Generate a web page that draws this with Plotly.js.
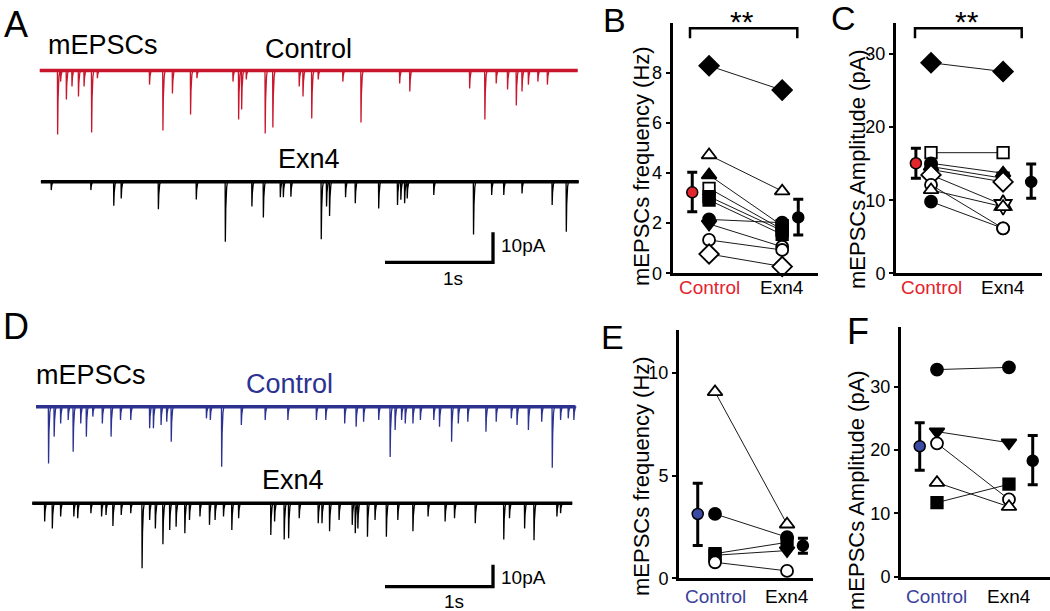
<!DOCTYPE html>
<html>
<head>
<meta charset="utf-8">
<script src="https://cdn.plot.ly/plotly-3.0.1.min.js"></script>
<style>html,body{margin:0;padding:0;background:#fff;}#chart{width:1050px;height:611px;}</style>
</head>
<body>
<div id="chart"></div>
<script>
// ---------------- DATA ----------------
// Panel A: mEPSC events (time s, amplitude pA)
const aCtrlTimes = [0.165,0.193,0.246,0.298,0.358,0.410,0.480,0.533,1.016,1.140,1.228,1.396,1.455,1.789,1.841,1.869,1.912,2.087,2.158,2.402,2.437,2.518,2.578,2.806,2.974,3.332,3.426,3.980,4.121,4.226,4.331,4.412,4.465,4.524,4.612,4.700];
const aCtrlAmps  = [21.3,3.7,9.7,5.3,8.7,5.3,20.7,2.6,4.7,20,7.7,14.7,2.6,3.7,16.3,13,3,21,19,5.3,8.7,16,3,3.7,17.3,4.3,7,6,16.3,4.3,6.3,11.7,7,4.7,3.7,4.7];
const aCtrlSpan  = [0, 4.98];
const aExnTimes  = [0.106,0.473,0.685,0.754,1.098,1.449,1.718,1.964,2.070,2.227,2.255,2.325,2.606,2.655,2.683,2.831,2.921,3.138,3.312,3.343,3.378,3.402,3.648,4.016,4.184,4.296,4.465,4.744,4.875];
const aExnAmps   = [2.8,2.8,8,5.6,9.2,5.9,20,8.3,11.9,5.2,5.2,5,19.2,8.3,11.4,5.2,7.2,8.9,7.8,6,7.2,5.6,4.4,17.6,4.4,4.4,3.9,7.8,16.7];
const aExnSpan   = [0.01, 4.99];
// Panel D
const dCtrlTimes = [0.081,0.133,0.193,0.263,0.309,0.379,0.431,0.491,0.579,0.660,0.747,0.842,1.017,1.052,1.123,1.175,1.217,1.543,1.579,1.684,1.866,2.087,2.297,2.561,2.648,2.823,2.929,2.998,3.138,3.244,3.290,3.350,3.384,3.455,3.524,3.648,3.701,3.813,3.875,3.963,4.131,4.226,4.366,4.419,4.524,4.647,4.745,4.822,4.893,4.945];
const dCtrlAmps  = [25.8,13.6,7.6,6,20.5,7.6,13.6,4.5,7.6,13.6,6,6,9.8,9.8,8.3,6.8,15.9,5.3,6,27.3,8.3,6,6,6,6,7.6,9.1,6.8,6,22.9,10.6,6,7.6,7.6,6,6,9.1,15.9,7.6,6.8,11.4,6.8,5.3,8.3,10.6,6.8,27.8,6,5.3,6];
const dCtrlSpan  = [-0.035, 4.96];
const dExnTimes  = [0.045,0.116,0.193,0.315,0.351,0.473,0.572,0.613,0.677,0.754,0.842,0.947,1.017,1.070,1.140,1.203,1.262,1.343,1.386,1.483,1.571,1.623,1.701,1.778,1.841,2.139,2.174,2.263,2.304,2.402,2.578,2.613,2.683,2.771,2.893,2.921,2.945,3.034,3.104,3.209,3.315,3.455,3.595,3.753,3.840,4.032,4.296,4.349,4.489,4.576,4.788,4.822];
const dExnAmps   = [8.3,11.4,6,6,6.8,4.5,6,5.3,10.3,5.3,4.5,29.5,7.6,11.4,18.6,12.1,10.6,13.6,7.6,6,9.8,7.6,6,12.1,6.8,14.4,8.3,16.4,15.9,6.8,9.1,9.1,12.7,7.6,9.8,13.6,11.4,15.2,7.6,15.2,7.6,12.7,6,8.3,6.8,9.1,16.4,6.8,11.4,16.8,6,4.5];
const dExnSpan   = [-0.07, 4.93];
const scaleBarTime = 1;   // s
const scaleBarAmp  = 10;  // pA

const groupLabels = ["Control", "Exn4"];

// Panel B: mEPSC frequency (Hz)
const bCtrl = [8.28,4.72,3.92,3.39,3.06,2.92,2.15,1.97,1.33,0.77];
const bExn  = [7.31,3.28,1.90,1.75,1.70,1.55,2.02,1.06,0.93,0.27];
const bCtrlSym = ["diamond","triangle-up-open","triangle-up","square-open","square","square","circle","triangle-down","circle-open","diamond-open"];
const bExnSym  = ["diamond","triangle-up-open","square","square-open","square","square","circle","circle-open","circle-open","diamond-open"];
const bMean = [3.23, 2.23], bUpper = [4.03, 2.95], bLower = [2.46, 1.53];
const bTicks = [0,2,4,6,8];

// Panel C: mEPSC amplitude (pA)
const cCtrl = [28.8,16.5,15.05,14.6,14.2,13.45,12.1,11.4,9.8];
const cExn  = [27.6,16.5,13.7,13.0,12.5,9.35,6.15,9.1,6.15];
const cCtrlSym = ["diamond","square-open","circle","triangle-up","square","diamond-open","circle-open","triangle-up-open","circle"];
const cExnSym  = ["diamond","square-open","triangle-up","square","diamond-open","hexagram-open","circle-open","triangle-up-open","circle-open"];
const cMean = [15.05, 12.5], cUpper = [17.1, 14.95], cLower = [13.0, 10.25];
const cTicks = [0,10,20,30];

// Panel E: mEPSC frequency (Hz)
const eCtrl = [9.07,3.13,1.20,1.12,0.78];
const eExn  = [2.63,2.00,1.75,1.35,0.36];
const eCtrlSym = ["triangle-up-open","circle","square","square","circle-open"];
const eExnSym  = ["triangle-up-open","circle","square","triangle-down","circle-open"];
const eMean = [3.13, 1.59], eUpper = [4.62, 1.95], eLower = [1.59, 1.22];
const eTicks = [0,5,10];

// Panel F: mEPSC amplitude (pA)
const fCtrl = [32.7,22.9,21.05,14.85,11.7];
const fExn  = [33.05,21.15,12.2,11.05,14.6];
const fSym  = ["circle","triangle-down","circle-open","triangle-up-open","square"];
const fMean = [20.6, 18.3], fUpper = [24.3, 22.3], fLower = [16.8, 14.5];
const fTicks = [0,10,20,30];

// ---------------- LAYOUT HELPERS ----------------
const W = 1050, H = 611;
const FONT = "Liberation Sans, Arial, Helvetica, sans-serif";
const RED = "#c8162c", BLUE = "#2c3291";
const RED_LBL = "#e4222b", BLUE_LBL = "#3a3f9c";
const px = v => v / W;
const py = v => 1 - v / H;

const traces = [];
const annotations = [];
const shapes = [];

function buildTrace(times, amps, span, offset) {
  const x = [span[0]], y = [offset];
  times.forEach((t, i) => {
    const a = amps[i];
    x.push(t - 0.002, t, t + 0.004, t + 0.012, t + 0.02);
    y.push(offset, offset - a, offset - 0.45 * a, offset - 0.1 * a, offset);
  });
  x.push(span[1]); y.push(offset);
  return {x, y};
}

function addRecording(xa, ya, times, amps, span, offset, color) {
  traces.push({x: span, y: [offset, offset], xaxis: xa, yaxis: ya, mode: "lines",
    line: {color: color, width: 3.5}, hoverinfo: "skip", showlegend: false});
  const tr = buildTrace(times, amps, span, offset);
  traces.push({x: tr.x, y: tr.y, xaxis: xa, yaxis: ya, mode: "lines",
    line: {color: color, width: 1.3, simplify: false}, hoverinfo: "skip", showlegend: false});
}

function addScaleBar(xa, ya, tEnd, base) {
  traces.push({x: [tEnd - scaleBarTime, tEnd, tEnd], y: [base, base, base + scaleBarAmp],
    xaxis: xa, yaxis: ya, mode: "lines", line: {color: "#000", width: 3.3},
    hoverinfo: "skip", showlegend: false});
}

// Trace panels: x_px = 39.8 + 108*t
const tRange = [(0 - 39.8) / 108, (590 - 39.8) / 108];
// A: 3 px per pA, control baseline at y=70.5
const aBase = 70.5, aScale = 3.0;
const aRange = [(aBase - 300) / aScale, (aBase - 40) / aScale];
const aExnOffset = (aBase - 181.7) / aScale;
addRecording("x", "y", aCtrlTimes, aCtrlAmps, aCtrlSpan, 0, RED);
addRecording("x", "y", aExnTimes, aExnAmps, aExnSpan, aExnOffset, "#000");
addScaleBar("x", "y", (493 - 39.8) / 108, (aBase - 262.3) / aScale);

// D: 2.2 px per pA, control baseline at y=406.7
const dBase = 406.7, dScale = 2.2;
const dRange = [(dBase - 611) / dScale, (dBase - 320) / dScale];
const dExnOffset = (dBase - 503.3) / dScale;
addRecording("x2", "y2", dCtrlTimes, dCtrlAmps, dCtrlSpan, 0, BLUE);
addRecording("x2", "y2", dExnTimes, dExnAmps, dExnSpan, dExnOffset, "#000");
addScaleBar("x2", "y2", (493 - 39.8) / 108, (dBase - 586.7) / dScale);

function symSize(s) {
  if (s.startsWith("diamond")) return 15;
  if (s.startsWith("triangle")) return 13;
  if (s.startsWith("hexagram")) return 15;
  if (s.startsWith("square")) return 11.5;
  return 12;
}
function symFill(s) { return s.endsWith("-open") ? "#fff" : "#000"; }
function symBase(s) { return s.replace("-open", ""); }

function addScatterPanel(xa, ya, ctrl, exn, ctrlSym, exnSym, mean, upper, lower, meanX, meanColor) {
  ctrl.forEach((v, i) => {
    traces.push({x: [1, 2], y: [v, exn[i]], xaxis: xa, yaxis: ya, mode: "lines",
      line: {color: "#1a1a1a", width: 1}, hoverinfo: "skip", showlegend: false, cliponaxis: false});
  });
  [[ctrl, ctrlSym, 1], [exn, exnSym, 2]].forEach(([vals, syms, xv]) => {
    traces.push({x: vals.map(() => xv), y: vals, xaxis: xa, yaxis: ya, mode: "markers",
      cliponaxis: false, showlegend: false, hoverinfo: "skip",
      marker: {symbol: syms.map(symBase), size: syms.map(symSize), color: syms.map(symFill),
               opacity: 1, line: {color: "#000", width: 1.8}}});
  });
  traces.push({x: meanX, y: mean, xaxis: xa, yaxis: ya, mode: "markers", cliponaxis: false,
    showlegend: false, hoverinfo: "skip",
    marker: {symbol: "circle", size: 11, opacity: 1, color: [meanColor, "#000"], line: {color: "#000", width: 1.5}},
    error_y: {type: "data", symmetric: false, array: upper.map((u, i) => u - mean[i]),
      arrayminus: lower.map((l, i) => mean[i] - l), thickness: 3, width: 5, color: "#000"}});
}

addScatterPanel("x3", "y3", bCtrl, bExn, bCtrlSym, bExnSym, bMean, bUpper, bLower, [0.77, 2.22], "#e3262d");
addScatterPanel("x4", "y4", cCtrl, cExn, cCtrlSym, cExnSym, cMean, cUpper, cLower, [0.79, 2.39], "#e3262d");
addScatterPanel("x5", "y5", eCtrl, eExn, eCtrlSym, eExnSym, eMean, eUpper, eLower, [0.76, 2.22], "#3b4aa3");
addScatterPanel("x6", "y6", fCtrl, fExn, fSym, fSym, fMean, fUpper, fLower, [0.76, 2.33], "#3b4aa3");

// ---------------- AXES ----------------
function hiddenAxis(domain, range) {
  return {domain: domain, range: range, visible: false, showgrid: false, zeroline: false, fixedrange: true};
}
function xCat(domain, range, anchor) {
  return {domain: domain, range: range, anchor: anchor, showline: true, linewidth: 3, linecolor: "#000",
    showgrid: false, zeroline: false, ticks: "", showticklabels: false, fixedrange: true};
}
function yNum(domain, range, anchor, tickvals) {
  return {domain: domain, range: range, anchor: anchor, showline: true, linewidth: 3, linecolor: "#000",
    showgrid: false, zeroline: false, ticks: "outside", ticklen: 4, tickwidth: 2, tickcolor: "#000",
    tickvals: tickvals, tickfont: {family: FONT, size: 18, color: "#000"}, fixedrange: true};
}

const layout = {
  width: W, height: H, margin: {l: 0, r: 0, t: 0, b: 0},
  paper_bgcolor: "#fff", plot_bgcolor: "rgba(0,0,0,0)", showlegend: false,
  font: {family: FONT, color: "#000"},
  xaxis: hiddenAxis([0, px(590)], tRange),
  yaxis: Object.assign(hiddenAxis([py(300), py(40)], aRange), {anchor: "x"}),
  xaxis2: Object.assign(hiddenAxis([0, px(590)], tRange), {anchor: "y2"}),
  yaxis2: Object.assign(hiddenAxis([py(611), py(320)], dRange), {anchor: "x2"}),
  xaxis3: xCat([px(672.5), px(818)], [0.5, 2.49], "y3"),
  yaxis3: yNum([py(273.3), py(22.7)], [0, 10], "x3", bTicks),
  xaxis4: xCat([px(896), px(1042)], [0.514, 2.54], "y4"),
  yaxis4: yNum([py(273.3), py(22.7)], [0, 34.28], "x4", cTicks),
  xaxis5: xCat([px(679), px(813)], [0.5, 2.36], "y5"),
  yaxis5: yNum([py(578.3), py(330)], [0, 12.08], "x5", eTicks),
  xaxis6: xCat([px(901), px(1050)], [0.5, 2.57], "y6"),
  yaxis6: yNum([py(576.7), py(326.7)], [0, 39.47], "x6", fTicks),
  annotations: annotations,
  shapes: shapes
};

function note(text, x, y, size, opts) {
  annotations.push(Object.assign({text: text, x: px(x), y: py(y), xref: "paper", yref: "paper",
    showarrow: false, xanchor: "center", yanchor: "middle",
    font: {family: FONT, size: size, color: "#000"}}, opts || {}));
}
// category labels under each scatter panel, placed on the panel's x scale
function catLabels(xa, yPix, ctrlColor) {
  groupLabels.forEach((g, i) => {
    annotations.push({text: g, x: i + 1, xref: xa, y: py(yPix), yref: "paper", showarrow: false,
      xanchor: "center", yanchor: "middle",
      font: {family: FONT, size: 19, color: i === 0 ? ctrlColor : "#000"}});
  });
}
catLabels("x3", 288, RED_LBL);
catLabels("x4", 288, RED_LBL);
catLabels("x5", 596, BLUE_LBL);
catLabels("x6", 596, BLUE_LBL);

// panel letters
note("A", 16, 24, 36); note("B", 614, 20, 34); note("C", 843, 18, 34);
note("D", 16, 326, 36); note("E", 612, 337, 34); note("F", 858, 331, 36);
// trace labels
note("mEPSCs", 46, 45, 27, {xanchor: "left"});
note("Control", 308, 49, 27);
note("Exn4", 309, 159, 27);
note("mEPSCs", 34, 375, 27, {xanchor: "left"});
note("Control", 289, 384, 27, {font: {family: FONT, size: 27, color: BLUE}});
note("Exn4", 293, 480, 27);
note(scaleBarAmp + "pA", 499, 246, 19, {xanchor: "left"});
note(scaleBarTime + "s", 453, 278, 19);
note(scaleBarAmp + "pA", 499, 577, 19, {xanchor: "left"});
note(scaleBarTime + "s", 454, 601, 19);
// axis titles
note("mEPSCs frequency (Hz)", 641, 166, 22, {textangle: -90});
note("mEPSCs Amplitude (pA)", 857, 169, 22, {textangle: -90});
note("mEPSCs frequency (Hz)", 641, 476, 22, {textangle: -90});
note("mEPSCs Amplitude (pA)", 856, 490, 22, {textangle: -90});
// significance
note("**", 742, 22, 30); note("**", 967, 22, 30);
function bracket(x0, x1, yTop, yLeg) {
  shapes.push({type: "path", xref: "paper", yref: "paper",
    path: "M" + px(x0) + "," + py(yLeg) + " L" + px(x0) + "," + py(yTop) + " L" + px(x1) + "," + py(yTop) + " L" + px(x1) + "," + py(yLeg),
    line: {color: "#000", width: 2.5}});
}
bracket(690, 797.3, 28.3, 38.3);
bracket(915, 1021.7, 28.3, 38.3);

Plotly.newPlot("chart", traces, layout, {displayModeBar: false, staticPlot: true});
</script>
</body>
</html>
